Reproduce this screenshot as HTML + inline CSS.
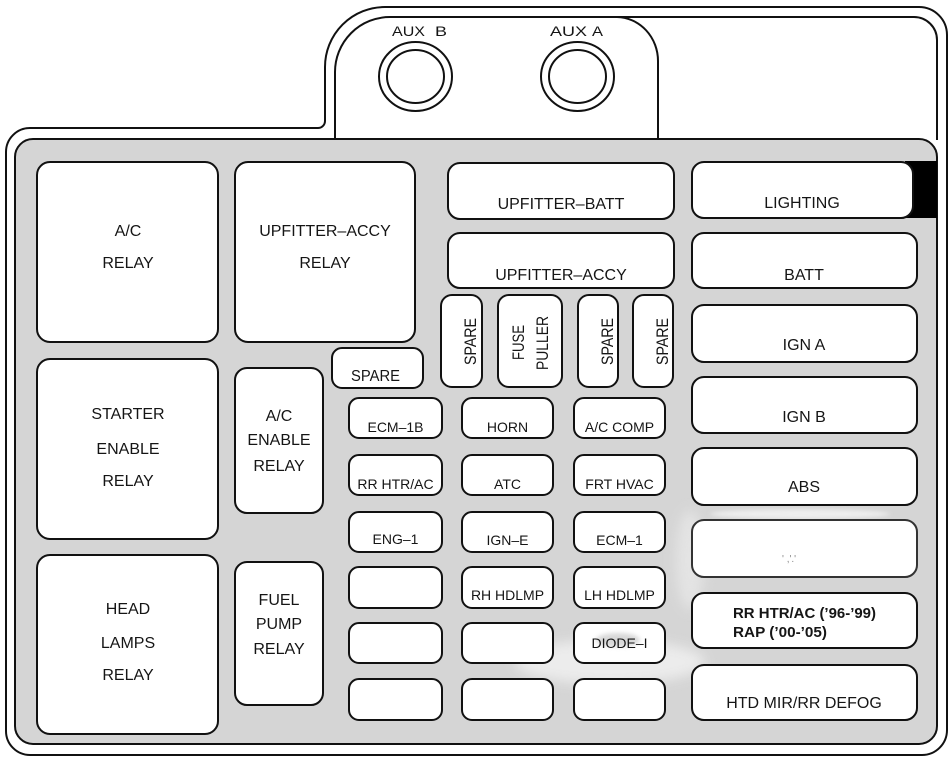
<!DOCTYPE html>
<html>
<head>
<meta charset="utf-8">
<style>
  html,body{margin:0;padding:0;background:#fff;}
  svg{display:block;}
  text{font-family:"Liberation Sans",Arial,sans-serif;fill:#151515;}
  .r{font-size:16px;text-anchor:middle;}
  .f{font-size:14px;text-anchor:middle;}
  .b{fill:#fff;stroke:#111;stroke-width:2;}
</style>
</head>
<body>
<svg width="951" height="760" viewBox="0 0 951 760" xmlns="http://www.w3.org/2000/svg">
  <defs>
    <filter id="blur" x="-50%" y="-50%" width="200%" height="200%">
      <feGaussianBlur stdDeviation="6"/>
    </filter>
    <filter id="blur2" x="-50%" y="-50%" width="200%" height="200%">
      <feGaussianBlur stdDeviation="2"/>
    </filter>
  </defs>

  <!-- outer outline -->
  <path d="M 6 154 L 6 731 A 24 24 0 0 0 30 755 L 922 755 A 25 25 0 0 0 947 730 L 947 35 A 28 28 0 0 0 919 7 L 385 7 A 60 60 0 0 0 325 67 L 325 121 A 7 7 0 0 1 318 128 L 30 128 A 24 24 0 0 0 6 152 Z" fill="none" stroke="#111" stroke-width="2"/>

  <!-- inner line of tab -->
  <path d="M 335 140 L 335 72 A 55 55 0 0 1 390 17 L 914 17 A 23 23 0 0 1 937 40 L 937 140" fill="none" stroke="#111" stroke-width="2"/>
  <path d="M 617 17 A 42 44 0 0 1 658 61 L 658 140" fill="none" stroke="#111" stroke-width="2"/>

  <!-- AUX circles -->
  <ellipse cx="415.5" cy="76.5" rx="36.5" ry="34.5" fill="none" stroke="#111" stroke-width="2"/>
  <ellipse cx="415.5" cy="76.5" rx="28.5" ry="26.5" fill="none" stroke="#111" stroke-width="2"/>
  <ellipse cx="577.5" cy="76.5" rx="36.5" ry="34.5" fill="none" stroke="#111" stroke-width="2"/>
  <ellipse cx="577.5" cy="76.5" rx="28.5" ry="26.5" fill="none" stroke="#111" stroke-width="2"/>
  <text x="392" y="36" font-size="14" textLength="33" lengthAdjust="spacingAndGlyphs">AUX</text>
  <text x="435" y="36" font-size="14" textLength="12" lengthAdjust="spacingAndGlyphs">B</text>
  <text x="550" y="36" font-size="14" textLength="37" lengthAdjust="spacingAndGlyphs">AUX</text>
  <text x="592" y="36" font-size="14" textLength="11" lengthAdjust="spacingAndGlyphs">A</text>

  <!-- grey panel -->
  <rect x="15" y="139" width="922" height="605" rx="18" ry="18" fill="#d5d5d5" stroke="#111" stroke-width="2"/>

  <!-- smudges -->
  <ellipse cx="610" cy="662" rx="95" ry="22" fill="#f2f2f2" opacity="0.8" filter="url(#blur)"/>
  <ellipse cx="690" cy="560" rx="14" ry="50" fill="#eeeeee" opacity="0.6" filter="url(#blur)"/>
  <ellipse cx="800" cy="514" rx="90" ry="5" fill="#f4f4f4" opacity="0.8" filter="url(#blur2)"/>

  <!-- Left relays -->
  <rect class="b" x="37" y="162" width="181" height="180" rx="13"/>
  <text class="r" x="128" y="236">A/C</text>
  <text class="r" x="128" y="268">RELAY</text>

  <rect class="b" x="235" y="162" width="180" height="180" rx="13"/>
  <text class="r" x="325" y="236">UPFITTER–ACCY</text>
  <text class="r" x="325" y="268">RELAY</text>

  <rect class="b" x="37" y="359" width="181" height="180" rx="13"/>
  <text class="r" x="128" y="419">STARTER</text>
  <text class="r" x="128" y="454">ENABLE</text>
  <text class="r" x="128" y="486">RELAY</text>

  <rect class="b" x="37" y="555" width="181" height="179" rx="13"/>
  <text class="r" x="128" y="614">HEAD</text>
  <text class="r" x="128" y="648">LAMPS</text>
  <text class="r" x="128" y="680">RELAY</text>

  <rect class="b" x="235" y="368" width="88" height="145" rx="12"/>
  <text class="r" x="279" y="421">A/C</text>
  <text class="r" x="279" y="445">ENABLE</text>
  <text class="r" x="279" y="471">RELAY</text>

  <rect class="b" x="235" y="562" width="88" height="143" rx="12"/>
  <text class="r" x="279" y="605">FUEL</text>
  <text class="r" x="279" y="629">PUMP</text>
  <text class="r" x="279" y="654">RELAY</text>

  <!-- horizontal spare -->
  <rect class="b" x="332" y="348" width="91" height="40" rx="10"/>
  <text x="351" y="381" font-size="16" textLength="49" lengthAdjust="spacingAndGlyphs">SPARE</text>

  <!-- upper middle -->
  <rect class="b" x="448" y="163" width="226" height="56" rx="12"/>
  <text class="r" x="561" y="209">UPFITTER–BATT</text>
  <rect class="b" x="448" y="233" width="226" height="55" rx="12"/>
  <text class="r" x="561" y="280">UPFITTER–ACCY</text>

  <!-- vertical fuses -->
  <rect class="b" x="441" y="295" width="41" height="92" rx="11"/>
  <text transform="translate(476,365) rotate(-90)" x="0" y="0" font-size="17" textLength="47" lengthAdjust="spacingAndGlyphs">SPARE</text>
  <rect class="b" x="498" y="295" width="64" height="92" rx="11"/>
  <text transform="translate(524,360) rotate(-90)" x="0" y="0" font-size="17" textLength="35" lengthAdjust="spacingAndGlyphs">FUSE</text>
  <text transform="translate(548,370) rotate(-90)" x="0" y="0" font-size="17" textLength="54" lengthAdjust="spacingAndGlyphs">PULLER</text>
  <rect class="b" x="578" y="295" width="40" height="92" rx="11"/>
  <text transform="translate(613,365) rotate(-90)" x="0" y="0" font-size="17" textLength="47" lengthAdjust="spacingAndGlyphs">SPARE</text>
  <rect class="b" x="633" y="295" width="40" height="92" rx="11"/>
  <text transform="translate(668,365) rotate(-90)" x="0" y="0" font-size="17" textLength="47" lengthAdjust="spacingAndGlyphs">SPARE</text>

  <!-- fuse grid -->
  <g>
    <rect class="b" x="349" y="398" width="93" height="40" rx="10"/>
    <rect class="b" x="462" y="398" width="91" height="40" rx="10"/>
    <rect class="b" x="574" y="398" width="91" height="40" rx="10"/>
    <text class="f" x="395.5" y="432">ECM–1B</text>
    <text class="f" x="507.5" y="432">HORN</text>
    <text class="f" x="619.5" y="432">A/C COMP</text>

    <rect class="b" x="349" y="455" width="93" height="40" rx="10"/>
    <rect class="b" x="462" y="455" width="91" height="40" rx="10"/>
    <rect class="b" x="574" y="455" width="91" height="40" rx="10"/>
    <text class="f" x="395.5" y="489">RR HTR/AC</text>
    <text class="f" x="507.5" y="489">ATC</text>
    <text class="f" x="619.5" y="489">FRT HVAC</text>

    <rect class="b" x="349" y="512" width="93" height="40" rx="10"/>
    <rect class="b" x="462" y="512" width="91" height="40" rx="10"/>
    <rect class="b" x="574" y="512" width="91" height="40" rx="10"/>
    <text class="f" x="395.5" y="544">ENG–1</text>
    <text class="f" x="507.5" y="545">IGN–E</text>
    <text class="f" x="619.5" y="545">ECM–1</text>

    <rect class="b" x="349" y="567" width="93" height="41" rx="10"/>
    <rect class="b" x="462" y="567" width="91" height="41" rx="10"/>
    <rect class="b" x="574" y="567" width="91" height="41" rx="10"/>
    <text class="f" x="507.5" y="600">RH HDLMP</text>
    <text class="f" x="619.5" y="600">LH HDLMP</text>

    <rect class="b" x="349" y="623" width="93" height="40" rx="10"/>
    <rect class="b" x="462" y="623" width="91" height="40" rx="10"/>
    <rect class="b" x="574" y="623" width="91" height="40" rx="10"/>
    <ellipse cx="618" cy="640" rx="22" ry="7" fill="#c8c8c8" opacity="0.7" filter="url(#blur2)"/>
    <text class="f" x="619.5" y="648">DIODE–I</text>

    <rect class="b" x="349" y="679" width="93" height="41" rx="10"/>
    <rect class="b" x="462" y="679" width="91" height="41" rx="10"/>
    <rect class="b" x="574" y="679" width="91" height="41" rx="10"/>
  </g>

  <!-- right column -->
  <rect x="905" y="161" width="32" height="57" fill="#000"/>
  <rect class="b" x="692" y="162" width="221" height="56" rx="12"/>
  <text class="r" x="802" y="208">LIGHTING</text>

  <rect class="b" x="692" y="233" width="225" height="55" rx="12"/>
  <text class="r" x="804" y="280">BATT</text>

  <rect class="b" x="692" y="305" width="225" height="57" rx="12"/>
  <text class="r" x="804" y="350">IGN A</text>

  <rect class="b" x="692" y="377" width="225" height="56" rx="12"/>
  <text class="r" x="804" y="422">IGN B</text>

  <rect class="b" x="692" y="448" width="225" height="57" rx="12"/>
  <text class="r" x="804" y="492">ABS</text>

  <rect class="b" x="692" y="520" width="225" height="57" rx="12" style="stroke:#333"/>
  <text x="782" y="562" font-size="10" style="fill:#8a8a8a">' ,'.'</text>

  <rect class="b" x="692" y="593" width="225" height="55" rx="12"/>
  <text x="733" y="618" font-size="15" font-weight="bold" textLength="143" lengthAdjust="spacingAndGlyphs">RR HTR/AC (’96-’99)</text>
  <text x="733" y="637" font-size="15" font-weight="bold" textLength="94" lengthAdjust="spacingAndGlyphs">RAP (’00-’05)</text>

  <rect class="b" x="692" y="665" width="225" height="55" rx="12"/>
  <text class="r" x="804" y="708">HTD MIR/RR DEFOG</text>
</svg>
</body>
</html>
